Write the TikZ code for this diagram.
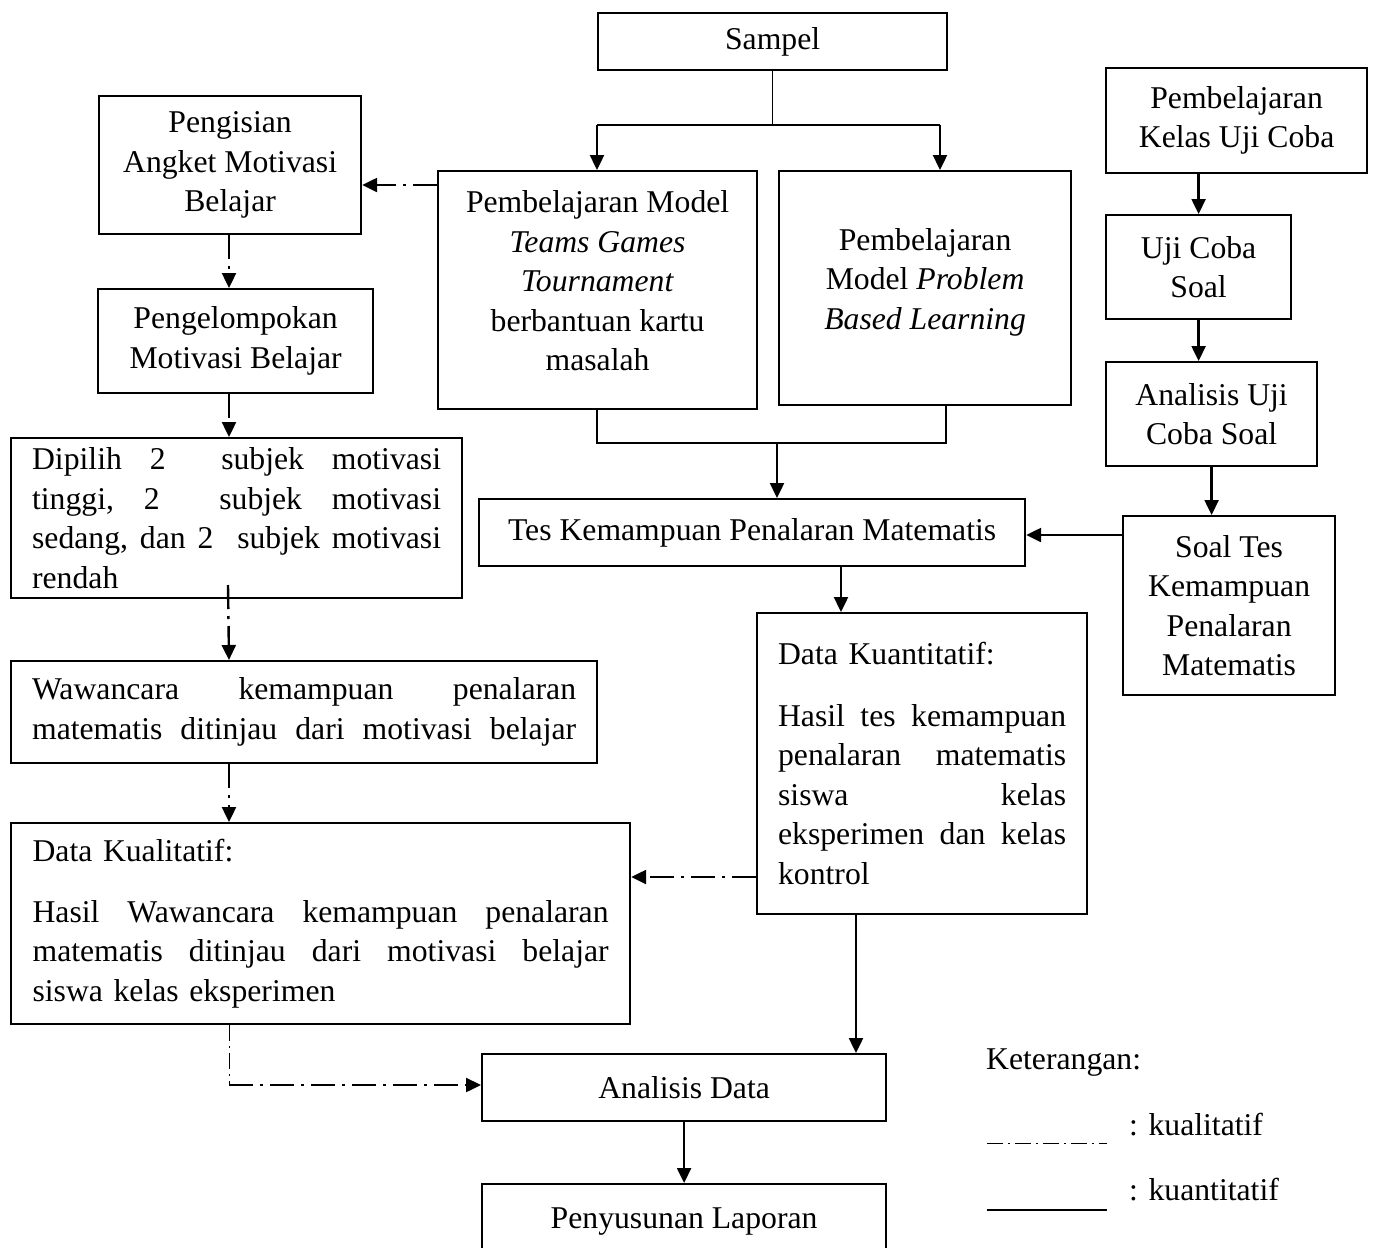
\documentclass[tikz,border=0pt]{standalone}
\usepackage{fontspec}
\setmainfont{Liberation Serif}
\usetikzlibrary{arrows.meta}
\newcommand\jline[2]{\leavevmode\hbox to #1{#2}}
\begin{document}
\begin{tikzpicture}[x=1pt,y=-1pt,
 txt/.style={font=\fontsize{31.7}{39.5}\selectfont},
 box/.style={txt, draw, line width=2.2pt, inner sep=0pt, align=center, anchor=north west},
 arr/.style={line width=2.4pt, -{Triangle[length=15pt,width=14pt]}},
 thinln/.style={line width=1.2pt},
 dd/.style={line width=2.4pt, dash pattern=on 24pt off 7pt on 3pt off 7pt},
 ddarr/.style={dd, -{Triangle[length=15pt,width=14pt]}},
 ddthin/.style={line width=1pt, dash pattern=on 16pt off 5pt on 2pt off 5pt},
 ]
\clip (0,0) rectangle (1374,1248);
\fill[white] (0,0) rectangle (1374,1248);

% boxes
\node[box, minimum width=349pt, minimum height=57pt] (sampel) at (597,12) {\raisebox{-3pt}{Sampel}};
\node[box, minimum width=262pt, minimum height=138pt] (peng) at (98,95) {Pengisian\\ Angket Motivasi\\ Belajar};
\node[box, minimum width=319pt, minimum height=238pt] (tgt) at (437,170) {Pembelajaran Model\\ \textit{Teams Games}\\ \textit{Tournament}\\ berbantuan kartu\\ masalah\\[-21pt]\mbox{}};
\node[box, minimum width=292pt, minimum height=234pt] (pbl) at (778,170) {Pembelajaran\\ Model \textit{Problem}\\ \textit{Based Learning}\\[-21pt]\mbox{}};
\node[box, minimum width=261pt, minimum height=105pt] (kuc) at (1105,67) {Pembelajaran\\ Kelas Uji Coba};
\node[box, minimum width=185pt, minimum height=104pt] (ujc) at (1105,214) {Uji Coba\\ Soal};
\node[box, minimum width=211pt, minimum height=104pt] (auc) at (1105,361) {Analisis Uji\\ Coba Soal};
\node[box, minimum width=212pt, minimum height=179pt] (soal) at (1122,515) {Soal Tes\\ Kemampuan\\ Penalaran\\ Matematis};
\node[box, minimum width=275pt, minimum height=104pt] (pkl) at (97,288) {Pengelompokan\\ Motivasi Belajar};
\node[box, minimum width=451pt, minimum height=160pt, text width=409pt, align=left] (dip) at (10,437)
 {\jline{409pt}{Dipilih\hfill 2\hfill\hfill subjek\hfill motivasi}\\
  \jline{409pt}{tinggi,\hfill 2\hfill\hfill subjek\hfill motivasi}\\
  \jline{409pt}{sedang,\hfill dan\hfill 2\hfill\hfill subjek\hfill motivasi}\\ rendah};
\node[box, minimum width=546pt, minimum height=67pt] (tes) at (478,498) {Tes Kemampuan Penalaran Matematis};
\node[box, minimum width=330pt, minimum height=301pt, text width=288pt, align=left] (dkn) at (756,612)
 {Data Kuantitatif:\\[22pt]
  \jline{288pt}{Hasil\hfill tes\hfill kemampuan}\\
  \jline{288pt}{penalaran\hfill matematis}\\
  \jline{288pt}{siswa\hfill kelas}\\
  \jline{288pt}{eksperimen\hfill dan\hfill kelas}\\ kontrol};
\node[box, minimum width=586pt, minimum height=102pt, text width=544pt, align=left] (waw) at (10,660)
 {\jline{544pt}{Wawancara\hfill kemampuan\hfill penalaran}\\
  \jline{544pt}{matematis\hfill ditinjau\hfill dari\hfill motivasi\hfill belajar}};
\node[box, minimum width=619pt, minimum height=201pt, text width=576pt, align=left] (dkl) at (10,822)
 {Data Kualitatif:\\[21pt]
  \jline{576pt}{Hasil\hfill Wawancara\hfill kemampuan\hfill penalaran}\\
  \jline{576pt}{matematis\hfill ditinjau\hfill dari\hfill motivasi\hfill belajar}\\ siswa kelas eksperimen};
\node[box, minimum width=404pt, minimum height=67pt] (adata) at (481,1053) {Analisis Data};
\node[box, minimum width=404pt, minimum height=76pt, anchor=north west] (lap) at (481,1183) {\raisebox{8pt}{Penyusunan Laporan}};

% Sampel split
\coordinate (sj) at (sampel.south |- 0,125);
\coordinate (sl) at (597,125);
\coordinate (sr) at (940,125);
\draw[thinln] (sampel.south) -- (sj);
\draw[thinln] (sl) -- (sr);
\draw[arr] (sl) -- (sl |- tgt.north);
\draw[arr] (sr) -- (sr |- pbl.north);

% merge to Tes
\coordinate (bl) at (597,443);
\coordinate (br) at (946,443);
\coordinate (bm) at (777,443);
\draw[thinln] (bl |- tgt.south) -- (bl) -- (br) -- (br |- pbl.south);
\draw[arr] (bm) -- (bm |- tes.north);

% right column
\draw[arr] (ujc.north |- kuc.south) -- (ujc.north);
\draw[arr] (ujc.south) -- (ujc.south |- auc.north);
\draw[arr] (auc.south) -- (auc.south |- soal.north);
\coordinate (sy) at (1122,535);
\draw[arr] (sy) -- (sy -| tes.east);
\coordinate (tx) at (841,565);
\draw[arr] (tx) -- (tx |- dkn.north);
\coordinate (kx) at (856,913);
\draw[arr] (kx) -- (kx |- adata.north);
\draw[arr] (adata.south) -- (lap.north);

% qualitative (dash-dot)
\coordinate (a1) at (437,185);
\draw[ddarr] (a1) -- (a1 -| peng.east);
\coordinate (lx) at (229,0);
\draw[ddarr] (lx |- peng.south) -- (lx |- pkl.north);
\draw[ddarr] (lx |- pkl.south) -- (lx |- dip.north);
\draw[ddarr] (228,585) -- (lx |- waw.north);
\draw[ddarr] (lx |- waw.south) -- (lx |- dkl.north);
\coordinate (ky) at (756,877);
\draw[ddarr] (ky) -- (ky -| dkl.east);
\coordinate (cr) at (229,1085);
\draw[ddthin] (lx |- dkl.south) -- (cr);
\draw[ddarr] (cr) -- (cr -| adata.west);

% legend
\node[txt, anchor=west, inner sep=0pt] (ket) at (986,1063) {Keterangan:};
\coordinate (l1a) at (987,1143);
\coordinate (l1b) at (1107,1143);
\draw[ddthin] (l1a) -- (l1b);
\node[txt, anchor=west, inner sep=0pt] (kual) at (1129,1125) {: kualitatif};
\coordinate (l2a) at (987,1210);
\coordinate (l2b) at (1107,1210);
\draw[thinln] (l2a) -- (l2b);
\node[txt, anchor=west, inner sep=0pt] (kuan) at (1129,1190) {: kuantitatif};
\end{tikzpicture}
\end{document}
